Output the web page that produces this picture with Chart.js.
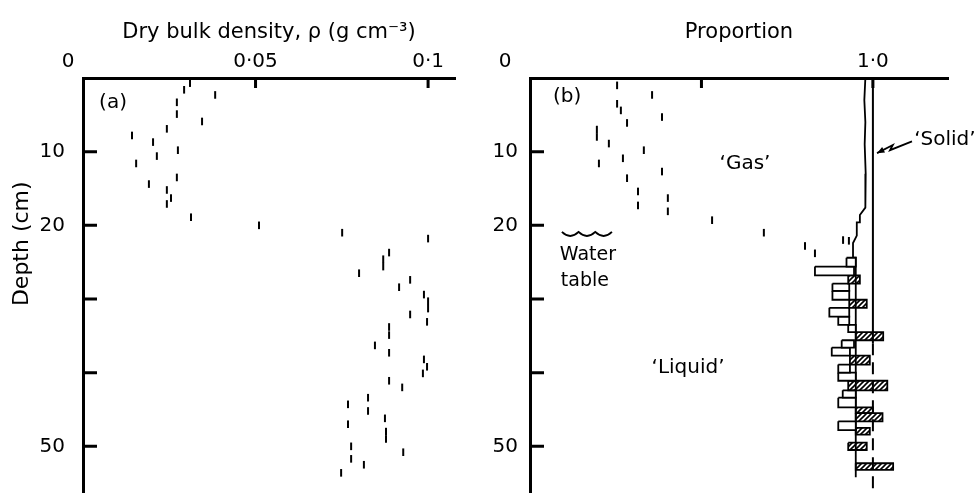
<!DOCTYPE html>
<html>
<head>
<meta charset="utf-8">
<script src="https://cdn.jsdelivr.net/npm/chart.js@4/dist/chart.umd.min.js"></script>
<style>
  body { margin: 0; background: #fff; width: 980px; height: 498px; overflow: hidden; position: relative; }
  canvas { position: absolute; top: 0; }
  #leftChart { left: 0; }
  #rightChart { left: 490px; }
</style>
</head>
<body>
<canvas id="leftChart" width="490" height="498"></canvas>
<canvas id="rightChart" width="490" height="498"></canvas>
<script>
// (a) dry bulk density profile: depth (cm) and density (g cm-3)
const densityDepth = [0.7, 1.6, 2.3, 3.3, 4.9, 5.9, 6.9, 7.8, 8.7, 9.8, 10.6, 11.6, 13.5, 14.4, 15.2, 16.3, 17.1, 18.9, 20.0,
  21.0, 21.8, 23.7, 24.6, 25.6, 26.5, 27.4, 28.4, 29.4, 30.3, 31.3, 32.1, 33.1, 33.8, 34.9, 36.3, 37.3, 38.2, 39.2, 40.1,
  41.1, 42.0, 43.4, 44.3, 45.2, 46.2, 47.0, 48.0, 49.0, 50.0, 50.8, 51.7, 52.5, 53.6];
const densityValue = [0.031, 0.0293, 0.0383, 0.0272, 0.0272, 0.0345, 0.0243, 0.0142, 0.0203, 0.0275, 0.0214, 0.0154, 0.0272, 0.0191, 0.0243, 0.0255, 0.0243, 0.0313, 0.051,
  0.0751, 0.100, 0.0887, 0.087, 0.087, 0.080, 0.0948, 0.0916, 0.0988, 0.100, 0.100, 0.0948, 0.0997, 0.0887, 0.0887, 0.0846, 0.0887, 0.0988, 0.0997, 0.0985,
  0.0887, 0.0925, 0.0826, 0.0768, 0.0826, 0.0875, 0.0768, 0.0878, 0.0878, 0.0777, 0.0928, 0.0777, 0.0814, 0.0748];

// (b) liquid proportion above the water table
const liquidDepth = [1.0, 3.5, 4.4, 2.3, 5.3, 6.1, 7.0, 8.0, 8.9, 9.8, 10.9, 11.6, 12.7, 13.6, 15.4, 17.3, 16.3, 18.1, 19.3, 21.0, 22.8, 23.8, 22.0, 22.1];
const liquidValue = [0.254, 0.254, 0.265, 0.356, 0.385, 0.283, 0.195, 0.195, 0.230, 0.332, 0.271, 0.201, 0.385, 0.283, 0.315, 0.315, 0.402, 0.402, 0.531, 0.682, 0.802, 0.831, 0.913, 0.930];

// (b) gas / solid boundary
const solidLineDepth = [0, 3, 6, 9, 13, 17.6, 18.6, 19.6, 19.6, 21.4, 22.4, 24.4, 24.4, 54.2];
const solidLineValue = [0.978, 0.975, 0.978, 0.976, 0.979, 0.978, 0.962, 0.962, 0.953, 0.953, 0.942, 0.942, 0.95, 0.95];

// (b) total = 1.0 line, solid then dashed
const totalSolidDepth = [0, 36];
const totalDashedDepth = [36, 56.2];
const totalValue = 1.0;

// (b) bars below the water table
const barTop    = [24.4, 25.6, 26.8, 27.9, 28.9, 30.1, 31.2, 32.4, 33.5, 34.5, 35.6, 36.6, 37.7, 38.9, 40.0, 41.1, 42.4, 43.4, 44.7, 45.5, 46.6, 47.5, 49.5, 52.3];
const barBottom = [25.6, 26.8, 27.9, 28.9, 30.1, 31.2, 32.4, 33.5, 34.5, 35.6, 36.6, 37.7, 38.9, 40.0, 41.1, 42.4, 43.4, 44.7, 45.5, 46.6, 47.8, 48.4, 50.5, 53.2];
const barFrom   = [0.923, 0.831, 0.928, 0.882, 0.882, 0.931, 0.873, 0.899, 0.928, 0.950, 0.909, 0.880, 0.933, 0.899, 0.899, 0.928, 0.912, 0.899, 0.950, 0.950, 0.899, 0.950, 0.928, 0.950];
const barTo     = [0.950, 0.945, 0.962, 0.931, 0.931, 0.982, 0.931, 0.931, 0.950, 1.030, 0.945, 0.933, 0.991, 0.933, 0.950, 1.042, 0.950, 0.950, 1.000, 1.028, 0.950, 0.991, 0.982, 1.059];
const barHatched = [false, false, true, false, false, true, false, false, false, true, false, false, true, false, false, true, false, false, true, true, false, true, true, true];

// axes
const depthTickLabels = [10, 20, 50];
const densityTicks = [0.05, 0.1];
const densityTickText = ['0·05', '0·1'];
const proportionTicks = [1.0];
const proportionTickText = ['1·0'];

const FONT = "'DejaVu Sans', sans-serif";

// diagonal hatching
function hatchPattern() {
  const c = document.createElement('canvas');
  c.width = 5; c.height = 5;
  const g = c.getContext('2d');
  g.strokeStyle = '#000';
  g.lineWidth = 1.6;
  g.beginPath();
  g.moveTo(0, 5); g.lineTo(5, 0);
  g.moveTo(-1, 1); g.lineTo(1, -1);
  g.moveTo(4, 6); g.lineTo(6, 4);
  g.stroke();
  return g.createPattern(c, 'repeat');
}

function keepSteps(step) {
  return scale => {
    scale.ticks = scale.ticks.filter(t => Math.abs(t.value / step - Math.round(t.value / step)) < 1e-6);
  };
}

function noPadding(s) {
  s.paddingTop = 0; s.paddingBottom = 0; s.paddingLeft = 0; s.paddingRight = 0;
}

// ticks inside the frame, extra texts
const extras = {
  id: 'extras',
  afterDraw(chart, args, opts) {
    const { ctx } = chart;
    const x = chart.scales.x, y = chart.scales.y;
    ctx.save();
    ctx.strokeStyle = '#000';
    ctx.lineWidth = 3;
    ctx.beginPath();
    x.ticks.forEach(t => {
      if (t.value <= 0) return;
      const px = x.getPixelForValue(t.value);
      ctx.moveTo(px, x.bottom); ctx.lineTo(px, x.bottom + 10);
    });
    y.ticks.forEach(t => {
      if (t.value <= 0) return;
      const py = y.getPixelForValue(t.value);
      ctx.moveTo(y.right, py); ctx.lineTo(y.right + 14, py);
    });
    ctx.stroke();

    ctx.fillStyle = '#000';
    ctx.font = '20px ' + FONT;
    ctx.textBaseline = 'middle';
    ctx.textAlign = 'center';
    ctx.fillText('0', y.right + opts.zeroOffset, x.bottom - 16);

    (opts.labels || []).forEach(l => {
      ctx.font = (l.size || 20) + 'px ' + FONT;
      ctx.textAlign = l.align || 'center';
      ctx.fillText(l.text, x.getPixelForValue(l.x), y.getPixelForValue(l.y));
    });

    if (opts.depthTitle) {
      ctx.save();
      ctx.font = '22px ' + FONT;
      ctx.translate(22, y.getPixelForValue(opts.depthTitle));
      ctx.rotate(-Math.PI / 2);
      ctx.textAlign = 'center';
      ctx.fillText('Depth (cm)', 0, 0);
      ctx.restore();
    }

    if (opts.water) {
      // wavy water-table symbol
      const w = opts.water;
      const x0 = x.getPixelForValue(w.from), x1 = x.getPixelForValue(w.to);
      const py = y.getPixelForValue(w.depth);
      const n = 3, seg = (x1 - x0) / n;
      ctx.lineWidth = 1.8;
      ctx.beginPath();
      ctx.moveTo(x0, py);
      for (let i = 0; i < n; i++) {
        ctx.quadraticCurveTo(x0 + seg * (i + 0.5), py + 8, x0 + seg * (i + 1), py);
      }
      ctx.stroke();
    }

    if (opts.arrow) {
      // pointer to the thin solid fraction
      const pts = opts.arrow.map(p => [x.getPixelForValue(p[0]), y.getPixelForValue(p[1])]);
      ctx.lineWidth = 1.8;
      ctx.beginPath();
      ctx.moveTo(pts[0][0], pts[0][1]);
      pts.slice(1).forEach(p => ctx.lineTo(p[0], p[1]));
      ctx.stroke();
      const a = pts[pts.length - 1], b = pts[pts.length - 2];
      const ang = Math.atan2(a[1] - b[1], a[0] - b[0]);
      ctx.beginPath();
      ctx.moveTo(a[0], a[1]);
      ctx.lineTo(a[0] - 8 * Math.cos(ang - 0.4), a[1] - 8 * Math.sin(ang - 0.4));
      ctx.lineTo(a[0] - 8 * Math.cos(ang + 0.4), a[1] - 8 * Math.sin(ang + 0.4));
      ctx.closePath();
      ctx.fill();
    }
    ctx.restore();
  }
};

function baseOptions(xMax, xStep, tickVals, tickText, titleText, yWidth, yPad, rightPad) {
  return {
    responsive: false,
    animation: false,
    devicePixelRatio: 1,
    layout: { padding: { top: 0, left: 0, right: rightPad, bottom: 6 } },
    plugins: { legend: { display: false }, tooltip: { enabled: false } },
    scales: {
      x: {
        type: 'linear', position: 'top', min: 0, max: xMax,
        afterBuildTicks: keepSteps(xStep),
        afterFit: s => { s.height = 78; noPadding(s); },
        grid: { display: true, drawOnChartArea: false, drawTicks: false },
        border: { display: true, color: '#000', width: 3 },
        ticks: {
          stepSize: xStep, padding: 4, color: '#000', maxRotation: 0, autoSkip: false, includeBounds: false,
          font: { family: FONT, size: 20 },
          callback: v => {
            const i = tickVals.findIndex(t => Math.abs(t - v) < 1e-9);
            return i >= 0 ? tickText[i] : '';
          }
        },
        title: { display: true, text: titleText, color: '#000', font: { family: FONT, size: 21 }, padding: { top: 20, bottom: 0 } }
      },
      y: {
        type: 'linear', reverse: true, min: 0, max: 56.2,
        afterBuildTicks: keepSteps(10),
        afterFit: s => { s.width = yWidth; noPadding(s); },
        grid: { display: true, drawOnChartArea: false, drawTicks: false },
        border: { display: true, color: '#000', width: 3 },
        ticks: {
          stepSize: 10, padding: yPad, color: '#000', autoSkip: false, includeBounds: false,
          font: { family: FONT, size: 20 },
          callback: v => depthTickLabels.includes(v) ? String(v) : ''
        }
      }
    }
  };
}

function dashes(depths, values) {
  return {
    data: depths.map((d, i) => ({ x: values[i], y: d })),
    showLine: false,
    pointStyle: 'line',
    rotation: 90,
    pointRadius: 3.8,
    pointHoverRadius: 3.8,
    pointBorderWidth: 2,
    pointBorderColor: '#000',
    borderColor: '#000'
  };
}

// panel (a)
const leftOpts = baseOptions(0.1078, 0.05, densityTicks, densityTickText, 'Dry bulk density, ρ (g cm⁻³)', 83, 18, 35);
leftOpts.plugins.extras = {
  zeroOffset: -15,
  depthTitle: 22.5,
  labels: [{ text: '(a)', x: 0.0087, y: 3.4 }]
};
new Chart(document.getElementById('leftChart'), {
  type: 'scatter',
  data: { datasets: [dashes(densityDepth, densityValue)] },
  options: leftOpts,
  plugins: [extras]
});

// panel (b)
const hatch = hatchPattern();
const barSets = barTop.map((t, i) => ({
  data: [
    { x: barFrom[i], y: t }, { x: barTo[i], y: t },
    { x: barTo[i], y: barBottom[i] }, { x: barFrom[i], y: barBottom[i] },
    { x: barFrom[i], y: t }
  ],
  showLine: true,
  fill: 'shape',
  backgroundColor: barHatched[i] ? hatch : '#fff',
  borderColor: '#000',
  borderWidth: 1.8,
  pointRadius: 0,
  tension: 0
}));

const rightOpts = baseOptions(1.219, 0.5, proportionTicks, proportionTickText, 'Proportion', 40, 12, 32);
rightOpts.plugins.extras = {
  zeroOffset: -25,
  labels: [
    { text: '(b)', x: 0.108, y: 2.6 },
    { text: '‘Gas’', x: 0.627, y: 11.6 },
    { text: '‘Solid’', x: 1.21, y: 8.4 },
    { text: 'Water', x: 0.169, y: 24.0, size: 19 },
    { text: 'table', x: 0.160, y: 27.6, size: 19 },
    { text: '‘Liquid’', x: 0.461, y: 39.3 }
  ],
  water: { from: 0.093, to: 0.239, depth: 20.9 },
  arrow: [[1.114, 8.6], [1.050, 9.8], [1.058, 9.1], [1.012, 10.2]]
};

new Chart(document.getElementById('rightChart'), {
  type: 'scatter',
  data: {
    datasets: barSets.concat([
      {
        data: solidLineDepth.map((d, i) => ({ x: solidLineValue[i], y: d })),
        showLine: true, borderColor: '#000', borderWidth: 1.8, pointRadius: 0
      },
      {
        data: totalSolidDepth.map(d => ({ x: totalValue, y: d })),
        showLine: true, borderColor: '#000', borderWidth: 2, pointRadius: 0
      },
      {
        data: totalDashedDepth.map(d => ({ x: totalValue, y: d })),
        showLine: true, borderColor: '#000', borderWidth: 2, borderDash: [12, 7], pointRadius: 0
      },
      dashes(liquidDepth, liquidValue)
    ])
  },
  options: rightOpts,
  plugins: [extras]
});
</script>
</body>
</html>
